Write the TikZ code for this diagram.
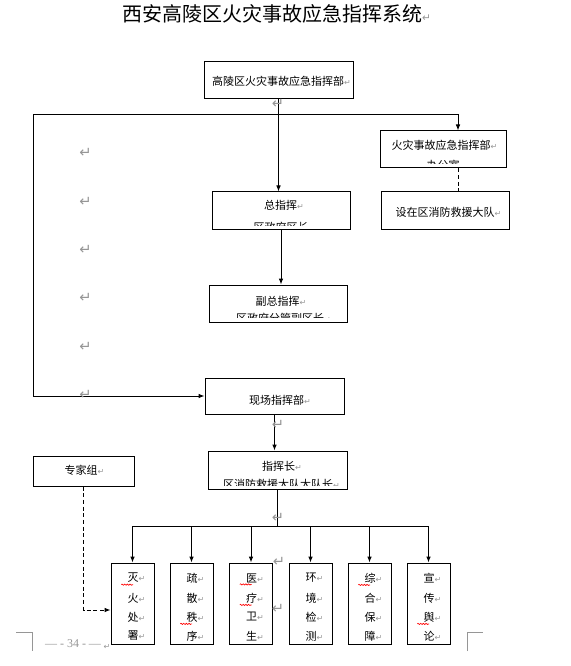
\documentclass[tikz,border=0pt]{standalone}
\usepackage{fontspec}
\setmainfont{Noto Sans CJK SC}
\newfontfamily\dvsans{DejaVu Sans}
\setsansfont{Liberation Serif}
\usetikzlibrary{arrows.meta,decorations.pathmorphing}
\definecolor{markgray}{RGB}{150,150,150}
\newcommand{\ret}{{\dvsans\fontsize{6pt}{6pt}\selectfont\textcolor{markgray}{↵}}}
\newcommand{\rt}[1]{#1\rlap{\ret}}
\tikzset{
  box/.style={draw, line width=0.75pt, inner sep=0pt},
  lbl/.style={inner sep=0pt, font=\fontsize{8.25pt}{10pt}\selectfont},
  conn/.style={line width=0.75pt},
  arr/.style={conn, -{Latex[length=4.5pt,width=3.5pt]}},
  dconn/.style={conn, dash pattern=on 3pt off 2pt},
  retmark/.style={inner sep=0pt, text=markgray, font=\dvsans\fontsize{11pt}{11pt}\selectfont},
  wavy/.style={red, line width=0.5pt, decorate, decoration={snake, amplitude=0.45pt, segment length=2pt}},
  pagemark/.style={draw=markgray, line width=0.75pt}
}
\begin{document}
\begin{tikzpicture}[x=0.75pt,y=-0.75pt]
\useasboundingbox (0,0) rectangle (570,666);
% title
\node[inner sep=0pt, font=\fontsize{15pt}{15pt}\selectfont] (title) at (272,14) {西安高陵区火灾事故应急指挥系统\rlap{\dvsans\fontsize{8pt}{8pt}\selectfont\textcolor{markgray}{↵}}};
% boxes
\node[box, minimum width=149*0.75pt, minimum height=37*0.75pt] (top) at (278.5,80.5) {};
\node[box, minimum width=126*0.75pt, minimum height=37*0.75pt] (office) at (443,149.5) {};
\node[box, minimum width=128*0.75pt, minimum height=38*0.75pt] (brig) at (445,211) {};
\node[box, minimum width=138*0.75pt, minimum height=38*0.75pt] (zong) at (281,211) {};
\node[box, minimum width=138*0.75pt, minimum height=37*0.75pt] (fuzong) at (278,303.5) {};
\node[box, minimum width=139*0.75pt, minimum height=36*0.75pt] (xc) at (274.5,396) {};
\node[box, minimum width=139*0.75pt, minimum height=38*0.75pt] (zhz) at (277.5,470) {};
\node[box, minimum width=101*0.75pt, minimum height=30*0.75pt] (exp) at (83.5,471) {};
% texts
\node[lbl] (ttop) at (278,81) {\rt{高陵区火灾事故应急指挥部}};
\node[lbl] (toffice) at (441,145) {\rt{火灾事故应急指挥部}};
\node[lbl] (tbrig) at (445,212) {\rt{设在区消防救援大队}};
\node[lbl] (tzong) at (280.5,205) {\rt{总指挥}};
\node[lbl] (tfuzong) at (277.5,301.5) {\rt{副总指挥}};
\node[lbl] (txc) at (276.5,400.5) {\rt{现场指挥部}};
\node[lbl] (tzhz) at (278.5,466) {\rt{指挥长}};
\node[lbl] (texp) at (81,470.5) {\rt{专家组}};
% clipped second lines
\begin{scope}
\clip (381,131) rectangle (505,164);
\node[lbl] (toffice2) at (443,165.5) {\rt{办公室}};
\end{scope}
\begin{scope}
\clip (213,193) rectangle (349,225.5);
\node[lbl] (tzong2) at (281,227) {\rt{区政府区长}};
\end{scope}
\begin{scope}
\clip (210,286) rectangle (346,317.5);
\node[lbl] (tfuzong2) at (280,318.5) {\rt{区政府分管副区长}};
\end{scope}
\begin{scope}
\clip (209,452) rectangle (346,485.5);
\node[lbl] (tzhz2) at (278,484) {\rt{区消防救援大队大队长}};
\end{scope}
% small vertical boxes
\foreach \i/\x/\a/\b/\c/\d in {1/132.5/灭/火/处/署, 2/191.5/疏/散/秩/序, 3/251/医/疗/卫/生, 4/310.5/环/境/检/测, 5/369.5/综/合/保/障, 6/428.5/宣/传/舆/论}{
  \node[box, minimum width=43*0.75pt, minimum height=81*0.75pt] (b\i) at (\x,603.5) {};
  \node[lbl] (b\i a) at (\x+0.5,578) {\rt{\a}};
  \node[lbl] (b\i b) at (\x+0.5,598) {\rt{\b}};
  \node[lbl] (b\i c) at (\x+0.5,617) {\rt{\c}};
  \node[lbl] (b\i d) at (\x+0.5,636) {\rt{\d}};
}
% red wavy underlines
\foreach \n in {b1a, b2c, b3a, b3b, b5a, b6c}{
  \draw[wavy] ([xshift=-6*0.75pt, yshift=-1.2pt]\n.south west) -- ([xshift=-6*0.75pt+9pt, yshift=-1.2pt]\n.south west);
}
% connectors
\coordinate (LT) at (33,115);
\coordinate (OT) at (458,115);
\draw[arr] (top.south) -- (top.south |- zong.north);
\draw[arr] (LT) -- (OT) -- (OT |- office.north);
\draw[arr] (LT) -- (LT |- xc.west) -- (xc.west);
\draw[dconn] (OT |- office.south) -- (OT |- brig.north);
\draw[arr] (zong.south) -- (zong.south |- fuzong.north);
\draw[arr] (xc.south) -- (xc.south |- zhz.north);
\coordinate (busL) at (132.5,526);
\coordinate (busR) at (428.5,526);
\draw[conn] (zhz.south) -- (zhz.south |- busL);
\draw[conn] (busL) -- (busR);
\foreach \i in {1,...,6}{
  \draw[arr] (b\i.north |- busL) -- (b\i.north);
}
\coordinate (E) at (83.5,610);
\draw[dconn, -{Latex[length=4.5pt,width=3.5pt]}] (exp.south) -- (E) -- (E -| b1.west);
% paragraph marks
\foreach \k/\px/\py in {1/278/104, 2/85.5/153, 3/85.5/202, 4/85.5/250, 5/85.5/298, 6/85.5/347, 7/85.5/395, 8/278/425, 9/278/518, 10/279/562, 11/278/609}{
  \node[retmark] (r\k) at (\px,\py) {↵};
}
\node[inner sep=0pt, text=markgray, font=\dvsans\fontsize{6pt}{6pt}\selectfont] (r12) at (107,647) {↵};
% page marks
\draw[pagemark] (16,632) -- (32,632) -- (32,651);
\draw[pagemark] (467,651) -- (467,632) -- (483,632);
\node[inner sep=0pt, text=markgray, font=\sffamily\fontsize{9pt}{10pt}\selectfont] (pnum) at (73,644) {— - 34 - —};
\end{tikzpicture}
\end{document}
